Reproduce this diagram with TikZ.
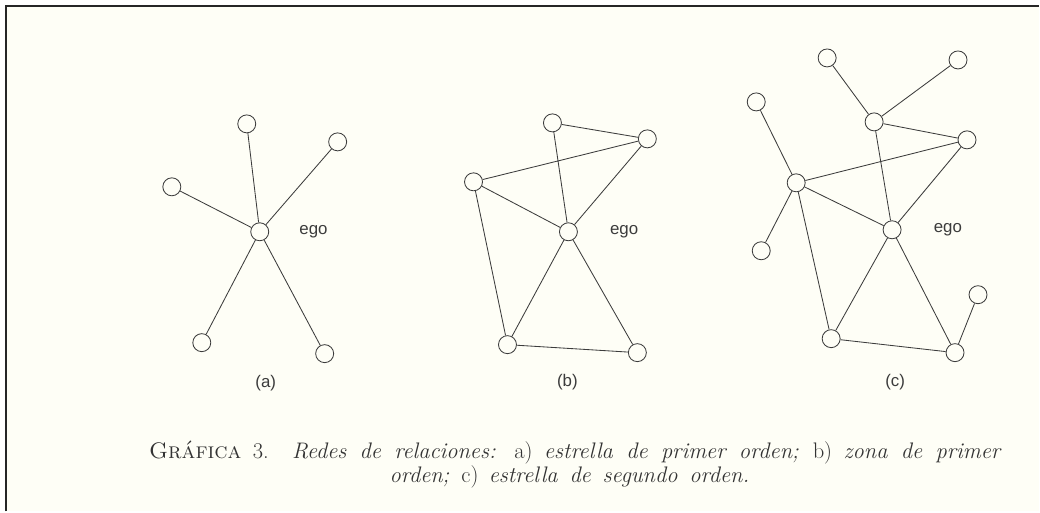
\documentclass[tikz,border=0pt]{standalone}
\usepackage{fontspec}
\newfontfamily\labelfont{Liberation Sans}
\usetikzlibrary{positioning}

\definecolor{paper}{RGB}{254,254,246}
\definecolor{ink}{RGB}{60,60,60}

\tikzset{
  actor/.style={circle, draw=ink, line width=0.6pt, minimum size=0.45cm, inner sep=0pt, fill=paper},
  tie/.style={draw=ink, line width=0.6pt},
  tag/.style={font=\labelfont\fontsize{12}{14}\selectfont, text=ink, inner sep=0pt},
  legend/.style={font=\fontsize{16}{19}\selectfont\addfontfeature{LetterSpace=10}, text=black!80, inner sep=0pt}
}

\begin{document}
\begin{tikzpicture}[x=0.025cm,y=-0.025cm]
\fill[white] (0,0) rectangle (1040,512);
\fill[paper] (6,6) rectangle (1040,512);
\draw[line width=1.5pt,black!85] (6,512) -- (6,6) -- (1040,6);
\useasboundingbox (0,0) rectangle (1040,512);

% (a) star
\node (egoa) [actor] at (260,232) {};
\node (a1) [actor] at (247,124) {};
\node (a2) [actor] at (338,142) {};
\node (a3) [actor] at (172,187) {};
\node (a4) [actor] at (202,343) {};
\node (a5) [actor] at (325,354) {};
\node (laba) [tag, right=0.75cm of egoa] {ego};
\node (capa) [tag] at (266,384) {(a)};
\draw[tie] (egoa) -- (a1) (egoa) -- (a2) (egoa) -- (a3) (egoa) -- (a4) (egoa) -- (a5);

% (b) zone
\node (egob) [actor] at (569,232) {};
\node (b1) [actor] at (553,123) {};
\node (b2) [actor] at (648,139) {};
\node (b3) [actor] at (474,182) {};
\node (b4) [actor] at (508,345) {};
\node (b5) [actor] at (638,353) {};
\node (labb) [tag, right=0.8cm of egob] {ego};
\node (capb) [tag] at (568,383) {(b)};
\draw[tie] (b1) -- (b2) (b1) -- (egob) (b3) -- (b2) (b3) -- (egob) (b2) -- (egob);
\draw[tie] (b3) -- (b4) (egob) -- (b4) (egob) -- (b5) (b4) -- (b5);

% (c) second order star
\node (egoc) [actor] at (893,230) {};
\node (c1) [actor] at (828,58) {};
\node (c2) [actor] at (959,60) {};
\node (c3) [actor] at (757,102) {};
\node (c4) [actor] at (875,122) {};
\node (c5) [actor] at (968,140) {};
\node (c6) [actor] at (797,183) {};
\node (c7) [actor] at (762,251) {};
\node (c8) [actor] at (832,339) {};
\node (c9) [actor] at (956,353) {};
\node (c10) [actor] at (979,295) {};
\node (labc) [tag, right=0.8cm of egoc] {ego};
\node (capc) [tag] at (896,383) {(c)};
\draw[tie] (c1) -- (c4) (c2) -- (c4) (c4) -- (c5) (c4) -- (egoc) (c5) -- (c6) (c5) -- (egoc);
\draw[tie] (c3) -- (c6) (c6) -- (c7) (c6) -- (egoc) (c6) -- (c8);
\draw[tie] (egoc) -- (c8) (egoc) -- (c9) (c8) -- (c9) (c9) -- (c10);

% caption
\node (cap1) [legend] at (576,453) {\makebox[607pt][s]{\textsc{Gráfica} 3. \textit{Redes de relaciones:} a) \textit{estrella de primer orden;} b) \textit{zona de primer}}};
\node (cap2) [legend] at (570,477) {\makebox[256pt][s]{\textit{orden;} c) \textit{estrella de segundo orden.}}};
\end{tikzpicture}
\end{document}
